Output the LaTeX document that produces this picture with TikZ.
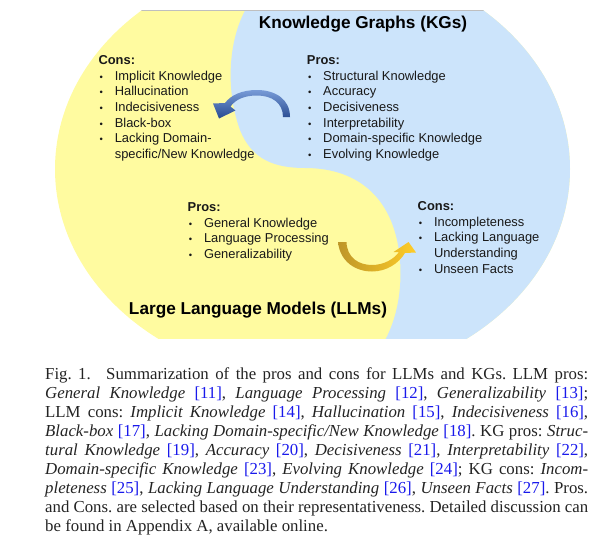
\documentclass[tikz,border=0pt]{standalone}
\usepackage{fontspec}
\setmainfont{Liberation Serif}
\newfontfamily\arialfont{Liberation Sans}
\usepackage{xcolor}
\usetikzlibrary{positioning}
\definecolor{llmyellow}{RGB}{255,251,160}
\definecolor{kgblue}{RGB}{204,228,251}
\definecolor{arrowblueD}{RGB}{40,75,145}
\definecolor{arrowblueL}{RGB}{120,155,215}
\definecolor{arrowgoldD}{RGB}{190,150,40}
\definecolor{arrowgoldL}{RGB}{255,205,40}
\definecolor{citeblue}{RGB}{25,25,235}
\definecolor{captext}{RGB}{35,35,35}
\newcommand{\blt}{\makebox[16.3pt][l]{\hspace{1.2pt}\fontsize{9.5}{9.5}\selectfont\textbullet}}
\newcommand{\cit}[1]{\textcolor{citeblue}{[#1]}}
\newcommand{\capline}[1]{\makebox[543pt][s]{#1}\\}
\tikzset{listtext/.style = {anchor=base west, inner sep=0, text=black!90,
                            font=\arialfont\fontsize{12.9}{15.7}\selectfont}}
\tikzset{titletext/.style = {anchor=base, inner sep=0,
                             font=\arialfont\bfseries\fontsize{17.2}{20}\selectfont}}
\tikzset{every picture/.style={x=1pt, y=-1pt}}

\begin{document}
\begin{tikzpicture}
  \useasboundingbox (0,0) rectangle (603,541);
  \begin{scope}
    \clip (0,10) rectangle (603,338);
    \clip (312.5,169) ellipse [x radius=257.5, y radius=212];
    \fill[llmyellow] (0,0) rectangle (603,541);
    \fill[kgblue] (252,0) .. controls (232,25) and (222,80) .. (240,130)
      .. controls (252,160) and (275,168) .. (305,168)
      .. controls (360,168) and (395,200) .. (400,260)
      .. controls (403,300) and (392,330) .. (382,345) -- (603,345) -- (603,0) -- cycle;
    \draw[black!25, line width=0.6pt] (0,10) -- (603,10);
  \end{scope}
  \shade[top color=arrowblueL, bottom color=arrowblueD]
    (290,117) .. controls (290,99) and (275,90) .. (257,90)
    .. controls (242,90) and (231,95) .. (225,103) -- (213,103.5) -- (219,118.5)
    -- (235.5,110.5) -- (230.5,106.5) .. controls (236,99) and (245,95.5) .. (257,95.5)
    .. controls (272,95.5) and (283,103) .. (283,117) -- cycle;
  \shade[left color=arrowgoldD, right color=arrowgoldL]
    (338,242) .. controls (340,262) and (356,271.5) .. (372,271.5)
    .. controls (387,271.5) and (399,263) .. (405,253) -- (416,252.5) -- (408.5,242)
    -- (393.5,252) -- (399,252) .. controls (394,259) and (384,265) .. (372,265)
    .. controls (359,265) and (347,258) .. (346.5,242) -- cycle;
  \node[titletext] (kgtitle) at (363,28.5) {Knowledge Graphs (KGs)};
  \node[titletext] (llmtitle) at (258,314) {Large Language Models (LLMs)};
  \node[listtext] (llmcons) at (98.3,64.3) {\begin{tabular}[t]{@{}l@{}l@{}}
      \multicolumn{2}{@{}l@{}}{\textbf{Cons:}}\\
      \blt & Implicit Knowledge\\
      \blt & Hallucination\\
      \blt & Indecisiveness\\
      \blt & Black-box\\
      \blt & Lacking Domain-\\
           & specific/New Knowledge
    \end{tabular}};
  \node[listtext] (kgpros) at (306.7,64.3) {\begin{tabular}[t]{@{}l@{}l@{}}
      \multicolumn{2}{@{}l@{}}{\textbf{Pros:}}\\
      \blt & Structural Knowledge\\
      \blt & Accuracy\\
      \blt & Decisiveness\\
      \blt & Interpretability\\
      \blt & Domain-specific Knowledge\\
      \blt & Evolving Knowledge
    \end{tabular}};
  \node[listtext] (llmpros) at (187.5,211.5) {\begin{tabular}[t]{@{}l@{}l@{}}
      \multicolumn{2}{@{}l@{}}{\textbf{Pros:}}\\
      \blt & General Knowledge\\
      \blt & Language Processing\\
      \blt & Generalizability
    \end{tabular}};
  \node[listtext] (kgcons) at (417.5,210.5) {\begin{tabular}[t]{@{}l@{}l@{}}
      \multicolumn{2}{@{}l@{}}{\textbf{Cons:}}\\
      \blt & Incompleteness\\
      \blt & Lacking Language\\
           & Understanding\\
      \blt & Unseen Facts
    \end{tabular}};
  \node[anchor=base west, inner sep=0, text=captext,
        font=\fontsize{16.8}{19}\selectfont] (caption) at (45,379.5)
    {\begin{minipage}[t]{543pt}\frenchspacing
      \capline{Fig.~1.\hspace{0.7em plus 0.2em}Summarization of the pros and cons for LLMs and KGs. LLM pros:}
      \capline{\textit{General Knowledge} \cit{11}, \textit{Language Processing} \cit{12}, \textit{Generalizability} \cit{13};}
      \capline{LLM cons: \textit{Implicit Knowledge} \cit{14}, \textit{Hallucination} \cit{15}, \textit{Indecisiveness} \cit{16},}
      \capline{\textit{Black-box} \cit{17}, \textit{Lacking Domain-specific/New Knowledge} \cit{18}. KG pros: \textit{Struc-}}
      \capline{\textit{tural Knowledge} \cit{19}, \textit{Accuracy} \cit{20}, \textit{Decisiveness} \cit{21}, \textit{Interpretability} \cit{22},}
      \capline{\textit{Domain-specific Knowledge} \cit{23}, \textit{Evolving Knowledge} \cit{24}; KG cons: \textit{Incom-}}
      \capline{\textit{pleteness} \cit{25}, \textit{Lacking Language Understanding} \cit{26}, \textit{Unseen Facts} \cit{27}. Pros.}
      \capline{and Cons. are selected based on their representativeness. Detailed discussion can}
      be found in Appendix A, available online.
    \end{minipage}};
\end{tikzpicture}
\end{document}
